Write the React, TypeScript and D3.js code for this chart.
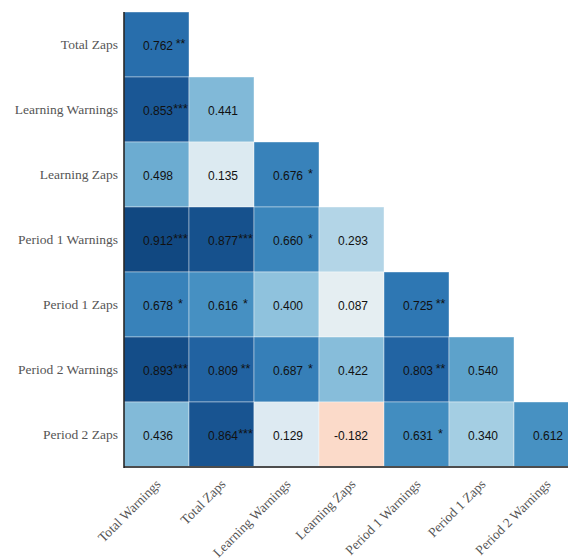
import React from "react";
import * as d3 from "d3";

const rowLabels = [
  "Total Zaps",
  "Learning Warnings",
  "Learning Zaps",
  "Period 1 Warnings",
  "Period 1 Zaps",
  "Period 2 Warnings",
  "Period 2 Zaps",
];
const colLabels = [
  "Total Warnings",
  "Total Zaps",
  "Learning Warnings",
  "Learning Zaps",
  "Period 1 Warnings",
  "Period 1 Zaps",
  "Period 2 Warnings",
];
const values: number[][] = [
  [0.762],
  [0.853, 0.441],
  [0.498, 0.135, 0.676],
  [0.912, 0.877, 0.66, 0.293],
  [0.678, 0.616, 0.4, 0.087, 0.725],
  [0.893, 0.809, 0.687, 0.422, 0.803, 0.54],
  [0.436, 0.864, 0.129, -0.182, 0.631, 0.34, 0.612],
];
const stars: string[][] = [
  ["**"],
  ["***", ""],
  ["", "", "*"],
  ["***", "***", "*", ""],
  ["*", "*", "", "", "**"],
  ["***", "**", "*", "", "**", ""],
  ["", "***", "", "", "*", "", ""],
];

const W = 568;
const H = 560;
const left = 124;
const top = 12;
const cell = 65;

export default function App() {
  const x = d3
    .scaleBand<string>()
    .domain(colLabels)
    .range([left, left + cell * colLabels.length])
    .padding(0);
  const y = d3
    .scaleBand<string>()
    .domain(rowLabels)
    .range([top, top + cell * rowLabels.length])
    .padding(0);
  const color = d3
    .scaleSequential((t: number) => d3.interpolateRdBu(t))
    .domain([-1, 1]);
  const bw = x.bandwidth();
  const bh = y.bandwidth();
  const bottom = top + cell * rowLabels.length;

  const cells: any[] = [];
  values.forEach((row, i) => {
    row.forEach((v, j) => {
      cells.push({ r: rowLabels[i], c: colLabels[j], v, s: stars[i][j] });
    });
  });

  return (
    <svg
      width={W}
      height={H}
      style={{ position: "absolute", left: 0, top: 0, background: "#fff" }}
    >
      <g>
        {cells.map((d, k) => (
          <rect
            key={k}
            x={x(d.c)}
            y={y(d.r)}
            width={bw}
            height={bh}
            fill={color(d.v)}
            stroke="#ffffff"
            strokeOpacity={0.5}
            strokeWidth={0.8}
          />
        ))}
      </g>
      <g fontFamily="'Liberation Sans', Arial, sans-serif" fill="#111">
        {cells.map((d, k) => {
          const cx = (x(d.c) as number) + bw / 2;
          const cy = (y(d.r) as number) + bh / 2;
          return (
            <g key={k}>
              <text x={cx + 16.5} y={cy + 5.5} fontSize={12} textAnchor="end">
                {d.v.toFixed(3)}
              </text>
              {d.s ? (
                <text x={cx + 24} y={cy + 3} fontSize={12.5} textAnchor="middle">
                  {d.s}
                </text>
              ) : null}
            </g>
          );
        })}
      </g>
      <line x1={left} x2={W} y1={bottom} y2={bottom} stroke="#4d4d4d" strokeWidth={2} />
      <line x1={left} x2={left} y1={top} y2={bottom + 1} stroke="#1a1a1a" strokeWidth={1.5} />
      <g fontFamily="'Liberation Serif', 'Times New Roman', serif" fill="#555" fontSize={13.5}>
        {rowLabels.map((r) => (
          <text
            key={r}
            x={left - 6}
            y={(y(r) as number) + bh / 2 + 4.5}
            textAnchor="end"
          >
            {r}
          </text>
        ))}
        {colLabels.map((c) => {
          const cx = (x(c) as number) + bw / 2 + 5;
          const cy = bottom + 18;
          return (
            <text
              key={c}
              x={cx}
              y={cy}
              textAnchor="end"
              transform={`rotate(-45 ${cx} ${cy})`}
            >
              {c}
            </text>
          );
        })}
      </g>
    </svg>
  );
}
